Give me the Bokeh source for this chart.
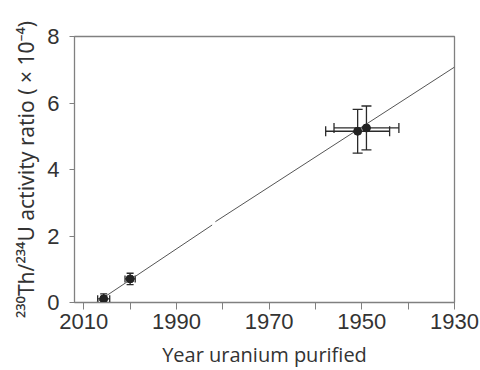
from bokeh.plotting import figure
from bokeh.models import ColumnDataSource, Whisker, TeeHead, Range1d, FixedTicker
from bokeh.embed import file_html
from bokeh.resources import INLINE

# Data
years = [2005.7, 2000.0, 1950.9, 1949.0]
ratio = [0.11, 0.71, 5.15, 5.25]
year_err = [1.3, 1.1, 6.9, 7.0]
ratio_err = [0.15, 0.17, 0.66, 0.66]
cap_size = [7, 7, 10, 10]

# fitted line (with the small break seen in the original)
fit_years = [2007.3, 1982.3, float("nan"), 1981.6, 1930.0]
fit_ratio = [0.0, 2.33, float("nan"), 2.43, 7.08]

x_major = [2010, 1990, 1970, 1950, 1930]
x_minor = [2000, 1980, 1960, 1940]
y_major = [0, 2, 4, 6, 8]

x_title = "Year uranium purified"
y_title = "²³⁰Th/²³⁴U activity ratio ( × 10⁻⁴)"

W, H = 480, 370
tc = "#333333"

src = ColumnDataSource(dict(
    year=years, ratio=ratio, cap=cap_size,
    ylo=[y - e for y, e in zip(years, year_err)],
    yhi=[y + e for y, e in zip(years, year_err)],
    rlo=[r - e for r, e in zip(ratio, ratio_err)],
    rhi=[r + e for r, e in zip(ratio, ratio_err)],
))

p = figure(width=W, height=H, output_backend="svg", toolbar_location=None, title=None,
           x_range=Range1d(2012.0, 1930.0), y_range=Range1d(0, 8),
           min_border_left=74, min_border_right=26, min_border_top=36, min_border_bottom=67)

p.xgrid.visible = False
p.ygrid.visible = False
p.outline_line_color = "#808080"
p.outline_line_width = 1.3
p.background_fill_color = "white"
p.border_fill_color = "white"

p.line(fit_years, fit_ratio, line_color="#555555", line_width=1)

ec = "#2a2a2a"
p.add_layout(Whisker(source=src, base="year", lower="rlo", upper="rhi", dimension="height",
                     line_color=ec, line_width=1.3,
                     upper_head=TeeHead(size="cap", line_color=ec, line_width=1.3),
                     lower_head=TeeHead(size="cap", line_color=ec, line_width=1.3)))
p.add_layout(Whisker(source=src, base="ratio", lower="ylo", upper="yhi", dimension="width",
                     line_color=ec, line_width=1.3,
                     upper_head=TeeHead(size="cap", line_color=ec, line_width=1.3),
                     lower_head=TeeHead(size="cap", line_color=ec, line_width=1.3)))
p.scatter("year", "ratio", source=src, size=8, fill_color="#222222", line_color="#222222")

xa = p.xaxis[0]
xa.ticker = FixedTicker(ticks=x_major, minor_ticks=x_minor)
xa.major_tick_out = 7
xa.major_tick_in = 0
xa.minor_tick_out = 7
xa.minor_tick_in = 0
xa.axis_line_color = "#808080"
xa.major_tick_line_color = "#808080"
xa.minor_tick_line_color = "#808080"
xa.major_label_text_font = "Liberation Sans"
xa.major_label_text_font_size = "22px"
xa.major_label_text_color = tc
xa.major_label_standoff = 4
xa.axis_label = x_title
xa.axis_label_text_font = "Open Sans"
xa.axis_label_text_font_style = "normal"
xa.axis_label_text_font_size = "20px"
xa.axis_label_text_color = tc
xa.axis_label_standoff = 9

ya = p.yaxis[0]
ya.ticker = FixedTicker(ticks=y_major, minor_ticks=[])
ya.major_tick_out = 5
ya.major_tick_in = 0
ya.minor_tick_out = 0
ya.axis_line_color = "#808080"
ya.major_tick_line_color = "#808080"
ya.major_label_text_font = "Liberation Sans"
ya.major_label_text_font_size = "22px"
ya.major_label_text_color = tc
ya.major_label_standoff = 10
ya.axis_label = y_title
ya.axis_label_text_font = "Noto Sans"
ya.axis_label_text_font_style = "normal"
ya.axis_label_text_font_size = "21px"
ya.axis_label_text_color = tc
ya.axis_label_standoff = 4

open("out.html", "w").write(file_html(p, INLINE))
